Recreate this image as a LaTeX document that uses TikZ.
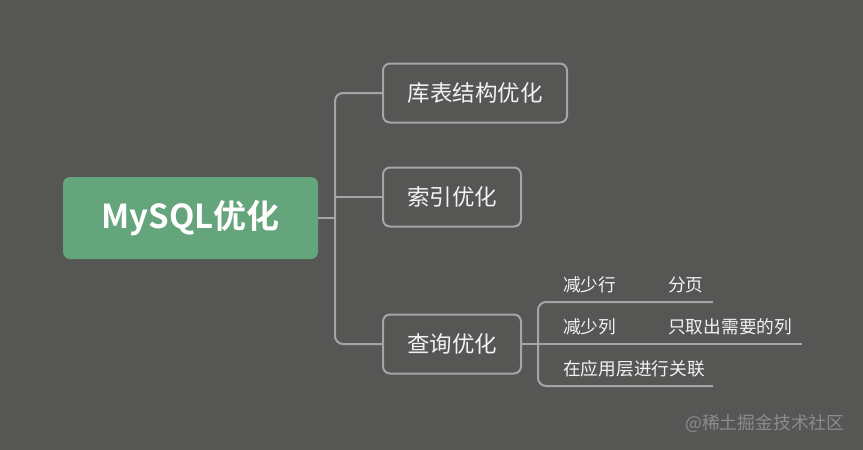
\documentclass[tikz,border=0pt]{standalone}
\usepackage{fontspec}
\setmainfont{Noto Sans CJK SC}
\newfontfamily\cjk{Noto Sans CJK SC}
\newfontfamily\cjkbold{Noto Sans CJK SC Bold}
\definecolor{bgc}{HTML}{565755}
\definecolor{rootc}{HTML}{64A57B}
\definecolor{linec}{HTML}{A5A5A5}
\definecolor{txtc}{HTML}{F2F2F2}
\definecolor{wmc}{HTML}{8C8C8C}
\begin{document}
\begin{tikzpicture}[x=1pt,y=-1pt,
  rootbox/.style={fill=rootc, rounded corners=7pt, minimum width=255pt, minimum height=82pt, inner sep=0pt, text=white, font=\cjkbold\fontsize{33}{35}\selectfont},
  topicbox/.style={draw=linec, line width=2pt, rounded corners=7pt, minimum height=59pt, inner sep=0pt, text=txtc, font=\cjk\fontsize{22.5}{25}\selectfont},
  leaf/.style={anchor=west, inner sep=0pt, text=txtc, font=\cjk\fontsize{17.7}{20}\selectfont},
  conn/.style={draw=linec, line width=2pt},
  wm/.style={anchor=west, inner sep=0pt, text=wmc, font=\cjk\fontsize{17.8}{20}\selectfont}]
\useasboundingbox[fill=bgc] (0,0) rectangle (863,450);
% nodes
\node[rootbox] (root) at (190.5,218) {MySQL优化};
\node[topicbox, minimum width=184pt] (b1) at (475,93) {库表结构优化};
\node[topicbox, minimum width=138pt] (b2) at (452,197) {索引优化};
\node[topicbox, minimum width=138pt] (b3) at (452,344) {查询优化};
\coordinate (trunk) at (335,218);
\coordinate (q) at (538,344);
\coordinate (e1) at (713,302);
\coordinate (e2) at (802,344);
\coordinate (e3) at (713,386);
\node[leaf] (l1) at (563,285) {减少行};
\node[leaf] (l1a) at (668,285) {分页};
\node[leaf] (l2) at (563,327) {减少列};
\node[leaf] (l2a) at (668,327) {只取出需要的列};
\node[leaf] (l3) at (563,369) {在应用层进行关联};
\node[wm] (w) at (685,423) {@稀土掘金技术社区};
% connectors
\draw[conn] (root.east) -- (trunk);
\draw[conn, rounded corners=8pt] (b1.west) -| (trunk) |- (b3.west);
\draw[conn] (b2.west) -- (b2.west -| trunk);
\draw[conn] (b3.east) -- (q);
\draw[conn, rounded corners=8pt] (q) |- (e1);
\draw[conn, rounded corners=8pt] (q) |- (e3);
\draw[conn] (q) -- (e2);
\end{tikzpicture}
\end{document}
